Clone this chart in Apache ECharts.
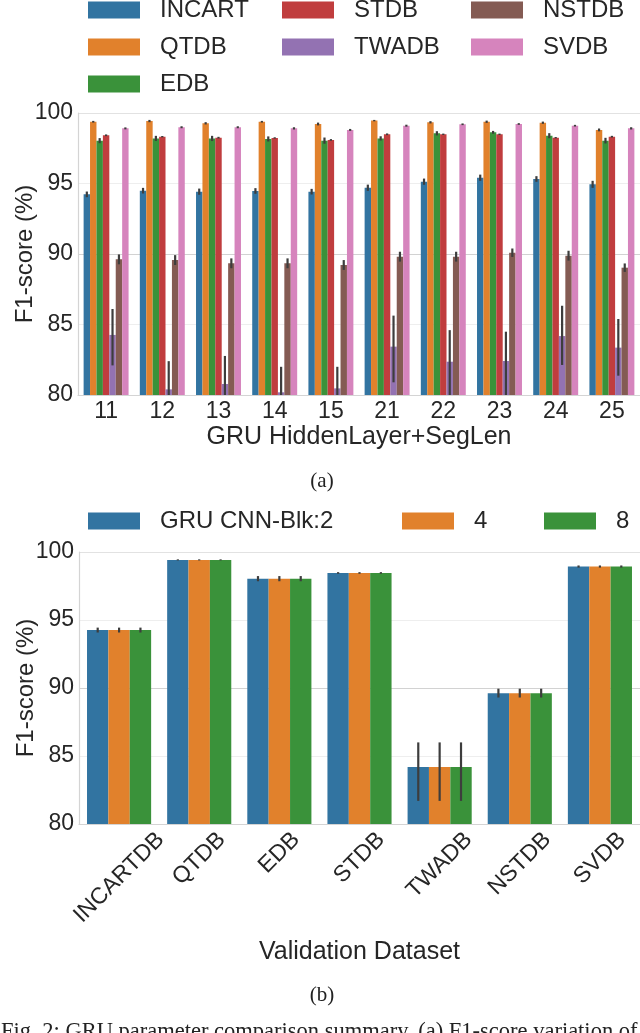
<!DOCTYPE html>
<html><head><meta charset="utf-8">
<script src="https://cdn.jsdelivr.net/npm/echarts@6/dist/echarts.min.js"></script>
<style>html,body{margin:0;padding:0;background:#fff;} #c{width:640px;height:1033px;}</style>
</head><body><div id="c"></div>
<script>
// ---------- Data: chart (a) ----------
const topCategories = ['11','12','13','14','15','21','22','23','24','25'];
const topSeriesNames = ['INCART','QTDB','EDB','STDB','TWADB','NSTDB','SVDB'];
const incart = [94.23,94.49,94.42,94.47,94.42,94.70,95.13,95.41,95.32,94.94];
const qtdb   = [99.38,99.43,99.27,99.38,99.22,99.46,99.34,99.38,99.31,98.80];
const edb    = [98.04,98.20,98.20,98.16,98.04,98.20,98.56,98.63,98.39,98.04];
const stdb   = [98.42,98.32,98.25,98.23,98.09,98.49,98.49,98.49,98.25,98.32];
const twadb  = [84.26,80.40,80.78,80.19,80.47,83.43,82.36,82.41,84.18,83.36];
const nstdb  = [89.62,89.57,89.34,89.34,89.22,89.81,89.81,90.09,89.88,89.03];
const svdb   = [98.91,98.99,98.99,98.91,98.80,99.10,99.20,99.22,99.10,98.91];
// error-bar half widths (symmetric)
const incartErr = [0.20,0.20,0.22,0.20,0.20,0.22,0.22,0.22,0.20,0.25];
const qtdbErr   = [0.06,0.08,0.08,0.06,0.10,0.05,0.08,0.08,0.08,0.10];
const edbErr    = [0.18,0.18,0.18,0.18,0.22,0.15,0.15,0.10,0.18,0.20];
const stdbErr   = [0.06,0.05,0.06,0.05,0.06,0.06,0.05,0.05,0.05,0.06];
const nstdbErr  = [0.35,0.35,0.35,0.35,0.35,0.35,0.35,0.30,0.35,0.30];
const svdbErr   = [0.07,0.07,0.07,0.08,0.07,0.07,0.06,0.06,0.06,0.08];
// TWADB confidence bounds (asymmetric)
const twadbLow  = [82.10,78.40,78.80,78.40,78.90,80.90,79.50,79.50,82.13,81.37];
const twadbHigh = [86.10,82.40,82.77,82.00,82.00,85.63,84.60,84.49,86.33,85.39];

// ---------- Data: chart (b) ----------
const bottomCategories = ['INCARTDB','QTDB','EDB','STDB','TWADB','NSTDB','SVDB'];
const bottomSeriesNames = ['GRU CNN-Blk:2','4','8'];
const blk2 = [94.26,99.42,98.04,98.46,84.20,89.61,98.93];
const blk4 = [94.26,99.42,98.04,98.46,84.20,89.61,98.93];
const blk8 = [94.26,99.42,98.04,98.46,84.20,89.61,98.93];
const bottomLow  = [94.08,99.38,97.85,98.40,81.70,89.30,98.85];
const bottomHigh = [94.44,99.46,98.23,98.52,86.00,89.95,99.01];

const yTicks = [80,85,90,95,100];

// ---------- Styles ----------
const topColors = ['#3274a1','#e1812c','#3a923a','#c03d3e','#9372b2','#845b53','#d684bd'];
const botColors = ['#3274a1','#e1812c','#3a923a'];
const FONT = '"Liberation Sans", Arial, sans-serif';
const TXT = '#262626';
const SPINE = '#d4d4d4';

const topVals = [incart,qtdb,edb,stdb,twadb,nstdb,svdb];
const topErrs = [incartErr,qtdbErr,edbErr,stdbErr,null,nstdbErr,svdbErr];
const botVals = [blk2,blk4,blk8];

function errRender(nSeries){
  return function(params, api){
    const ci = api.value(0), si = api.value(1), lo = api.value(2), hi = api.value(3);
    const cw = api.size([1,0])[0];
    const bw = cw*0.8/nSeries;
    const p1 = api.coord([ci, hi]);
    const p2 = api.coord([ci, lo]);
    const x = p1[0] + (si - (nSeries-1)/2)*bw;
    return {type:'line', shape:{x1:x,y1:p1[1],x2:x,y2:p2[1]},
            style:{stroke:'#3d3d3d', lineWidth:2.2}};
  };
}

const topErrData = [];
topVals.forEach((arr,i)=>{
  arr.forEach((v,j)=>{
    if(i===4) topErrData.push([j,i,twadbLow[j],twadbHigh[j]]);
    else topErrData.push([j,i,v-topErrs[i][j],v+topErrs[i][j]]);
  });
});
const botErrData = [];
botVals.forEach((arr,i)=>{
  arr.forEach((v,j)=>{ botErrData.push([j,i,bottomLow[j],bottomHigh[j]]); });
});

function yAxisCfg(gridIndex){
  return {
    type:'value', gridIndex, min:yTicks[0], max:yTicks[yTicks.length-1], interval:5,
    name:'F1-score (%)', nameLocation:'middle', nameGap:41, nameMoveOverlap:false,
    nameTextStyle:{fontSize:24, fontFamily:FONT, color:TXT},
    axisLine:{show:true, lineStyle:{color:SPINE, width:1.2}},
    axisTick:{show:false},
    axisLabel:{fontSize:23, fontFamily:FONT, color:TXT, margin:5},
    splitLine:{show:true, lineStyle:{color:['#d4d4d4','#eeeeee','#d2d2d2','#eeeeee','#e2e2e2'], width:1.2}}
  };
}

const legendText = {fontSize:24, fontFamily:FONT, color:TXT, lineHeight:17, padding:[0,0,0,15]};
function legendCfg(left, top, data){
  return {left, top, orient:'vertical', itemWidth:52, itemHeight:17, itemGap:13, padding:0,
    icon:'rect', selectedMode:false, data, textStyle:legendText};
}

const series = [];
topSeriesNames.forEach((n,i)=>{
  series.push({type:'bar', name:n, xAxisIndex:0, yAxisIndex:0, data:topVals[i],
    barWidth:(80/7).toFixed(3)+'%', barGap:'0%', itemStyle:{color:topColors[i]}, silent:true});
});
series.push({type:'custom', xAxisIndex:0, yAxisIndex:0, renderItem:errRender(7), data:topErrData,
  encode:{x:0, y:[2,3]}, clip:true, silent:true, z:5});
bottomSeriesNames.forEach((n,i)=>{
  series.push({type:'bar', name:n, xAxisIndex:1, yAxisIndex:1, data:botVals[i],
    barWidth:(80/3).toFixed(3)+'%', barGap:'0%', itemStyle:{color:botColors[i]}, silent:true});
});
series.push({type:'custom', xAxisIndex:1, yAxisIndex:1, renderItem:errRender(3), data:botErrData,
  encode:{x:0, y:[2,3]}, clip:true, silent:true, z:5});

const option = {
  animation:false,
  backgroundColor:'#ffffff',
  grid:[
    {left:78, right:0, top:113, bottom:1033-395, outerBoundsMode:'none', containLabel:false},
    {left:79, right:0, top:552, bottom:1033-824, outerBoundsMode:'none', containLabel:false}
  ],
  legend:[
    legendCfg(88, -2, ['INCART','QTDB','EDB']),
    legendCfg(282, -2, ['STDB','TWADB']),
    legendCfg(471, -2, ['NSTDB','SVDB']),
    legendCfg(88, 509, ['GRU CNN-Blk:2']),
    legendCfg(402, 509, ['4']),
    legendCfg(544, 509, ['8'])
  ],
  xAxis:[
    {type:'category', gridIndex:0, data:topCategories,
     name:'GRU HiddenLayer+SegLen', nameLocation:'middle', nameGap:30, nameMoveOverlap:false,
     nameTextStyle:{fontSize:25, fontFamily:FONT, color:TXT, verticalAlign:'top'},
     axisLine:{lineStyle:{color:SPINE, width:1.2}}, axisTick:{show:false},
     axisLabel:{fontSize:23, fontFamily:FONT, color:TXT, margin:5}},
    {type:'category', gridIndex:1, data:bottomCategories,
     name:'Validation Dataset', nameLocation:'middle', nameGap:116, nameMoveOverlap:false,
     nameTextStyle:{fontSize:25, fontFamily:FONT, color:TXT, verticalAlign:'top'},
     axisLine:{lineStyle:{color:SPINE, width:1.2}}, axisTick:{show:false},
     axisLabel:{show:false}}
  ],
  yAxis:[yAxisCfg(0), yAxisCfg(1)],
  series
};

const chart = echarts.init(document.getElementById('c'), null, {renderer:'canvas'});
chart.setOption(option);

// rotated (45°) category labels for chart (b), centred on each tick like the original
const LABEL_SIZE = 23;
const ctx = document.createElement('canvas').getContext('2d');
ctx.font = LABEL_SIZE + 'px ' + FONT;
const axisY = chart.convertToPixel({yAxisIndex:1}, yTicks[0]);
const graphics = [
  {type:'text', x:322, y:481, style:{text:'(a)', align:'center', verticalAlign:'middle',
    font:'21px "Liberation Serif", "Times New Roman", serif', fill:'#222'}},
  {type:'text', x:322, y:995, style:{text:'(b)', align:'center', verticalAlign:'middle',
    font:'21px "Liberation Serif", "Times New Roman", serif', fill:'#222'}},
  {type:'text', x:1, y:1021, style:{text:'Fig. 2: GRU parameter comparison summary. (a) F1-score variation of',
    align:'left', verticalAlign:'top', font:'22.5px "Liberation Serif", "Times New Roman", serif', fill:'#222'}}
];
bottomCategories.forEach((c)=>{
  const tx = chart.convertToPixel({xAxisIndex:1}, c);
  const L = ctx.measureText(c).width;
  const h = LABEL_SIZE;
  graphics.push({type:'text', x: tx + (L - h)/(2*Math.SQRT2), y: axisY + 4, rotation: Math.PI/4,
    style:{text:c, align:'right', verticalAlign:'top', fontSize:LABEL_SIZE, fontFamily:FONT, fill:TXT}});
});
chart.setOption({graphic:graphics});
</script>
</body></html>
